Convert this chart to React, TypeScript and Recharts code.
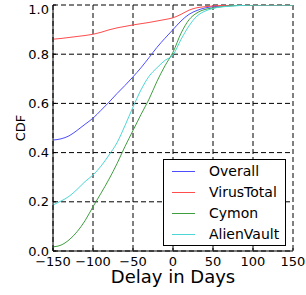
import React from "react";
import {
  LineChart,
  Line,
  XAxis,
  YAxis,
  CartesianGrid,
  Legend,
  Label,
} from "recharts";

const days = [-150, -140, -130, -120, -110, -100, -90, -80, -70, -60, -50, -40, -30, -20, -10, 0, 10, 20, 30, 40, 50, 60, 75, 100, 125, 150];
const overall = [0.451, 0.456, 0.468, 0.49, 0.515, 0.54, 0.572, 0.605, 0.64, 0.673, 0.708, 0.745, 0.786, 0.828, 0.865, 0.9, 0.935, 0.962, 0.978, 0.988, 0.993, 0.996, 0.998, 1.0, 1.0, 1.0];
const virusTotal = [0.861, 0.864, 0.868, 0.872, 0.876, 0.881, 0.889, 0.899, 0.907, 0.913, 0.919, 0.924, 0.929, 0.935, 0.941, 0.948, 0.962, 0.979, 0.989, 0.993, 0.996, 0.998, 0.999, 1.0, 1.0, 1.0];
const cymon = [0.017, 0.024, 0.045, 0.078, 0.123, 0.18, 0.235, 0.292, 0.355, 0.425, 0.49, 0.555, 0.617, 0.69, 0.753, 0.808, 0.885, 0.94, 0.968, 0.982, 0.988, 0.993, 0.997, 1.0, 1.0, 1.0];
const alienVault = [0.187, 0.203, 0.222, 0.25, 0.282, 0.309, 0.345, 0.39, 0.44, 0.51, 0.585, 0.655, 0.71, 0.745, 0.775, 0.797, 0.86, 0.915, 0.955, 0.975, 0.986, 0.992, 0.996, 1.0, 1.0, 1.0];

const xTicks = [-150, -100, -50, 0, 50, 100, 150];
const yTicks = [0, 0.2, 0.4, 0.6, 0.8, 1.0];

const seriesNames = ["Overall", "VirusTotal", "Cymon", "AlienVault"];
const seriesKeys = ["overall", "virusTotal", "cymon", "alienVault"];
const seriesColors = ["#4d4dff", "#ff4d4d", "#3f9f3f", "#4dd6d6"];

const data = days.map((d, i) => ({
  day: d,
  overall: overall[i],
  virusTotal: virusTotal[i],
  cymon: cymon[i],
  alienVault: alienVault[i],
}));

const FONT = "'DejaVu Sans', 'Bitstream Vera Sans', sans-serif";

const fmtX = (v: number) => (v < 0 ? "\u2212" + Math.abs(v) : String(v));

const XTick = (props: any) => {
  const { x, y, payload } = props;
  return (
    <text x={x} y={y} textAnchor="middle" fontFamily={FONT} fontSize={13} fill="#000">
      {fmtX(payload.value)}
    </text>
  );
};

const YTick = (props: any) => {
  const { x, y, payload } = props;
  return (
    <text x={x} y={y} dy="0.36em" textAnchor="end" fontFamily={FONT} fontSize={13} fill="#000">
      {Number(payload.value).toFixed(1)}
    </text>
  );
};

const LegendContent = () => {
  return (
    <div
      style={{
        width: 121,
        border: "1px solid #000",
        background: "#fff",
        paddingTop: 1,
        boxSizing: "content-box",
        fontFamily: FONT,
        fontSize: 14,
      }}
    >
      {seriesNames.map((name, i) => (
        <div key={name} style={{ height: 21, display: "flex", alignItems: "center", position: "relative" }}>
          <svg width={40} height={21} style={{ display: "block" }}>
            <line x1={8} x2={31} y1={10.5} y2={10.5} stroke={seriesColors[i]} strokeWidth={1} />
          </svg>
          <span style={{ position: "absolute", left: 45, top: 1, lineHeight: "19px", color: "#000" }}>{name}</span>
        </div>
      ))}
    </div>
  );
};

export default function App() {
  return (
    <div style={{ position: "absolute", left: 0, top: 0, background: "#fff" }}>
      <LineChart width={306} height={295} data={data} margin={{ top: 5, right: 13, left: 0, bottom: 0 }}>
        <CartesianGrid stroke="#000" strokeDasharray="5 3" strokeWidth={1} />
        <XAxis
          dataKey="day"
          type="number"
          domain={[-150, 150]}
          ticks={xTicks}
          allowDataOverflow
          height={44}
          stroke="#000"
          tickSize={-3}
          tickMargin={18}
          tick={<XTick />}
          tickLine={{ stroke: "#000" }}
          axisLine={{ stroke: "#000" }}
        >
          <Label
            content={(p: any) => {
              const vb = p.viewBox;
              return (
                <text x={vb.x + vb.width / 2} y={283} textAnchor="middle" fontFamily={FONT} fontSize={18} fill="#000">
                  Delay in Days
                </text>
              );
            }}
          />
        </XAxis>
        <XAxis
          xAxisId="top"
          orientation="top"
          type="number"
          dataKey="day"
          domain={[-150, 150]}
          ticks={xTicks}
          allowDataOverflow
          height={0}
          tickSize={-3}
          tick={false}
          tickLine={{ stroke: "#000" }}
          axisLine={{ stroke: "#000" }}
        />
        <YAxis
          type="number"
          domain={[0, 1]}
          ticks={yTicks}
          allowDataOverflow
          width={53}
          tickSize={-3}
          tickMargin={7}
          tick={<YTick />}
          tickLine={{ stroke: "#000" }}
          axisLine={{ stroke: "#000" }}
        >
          <Label
            content={() => (
              <text x={25} y={128} transform="rotate(-90 25 128)" textAnchor="middle" fontFamily={FONT} fontSize={13} fill="#000">
                CDF
              </text>
            )}
          />
        </YAxis>
        <YAxis
          yAxisId="right"
          orientation="right"
          type="number"
          domain={[0, 1]}
          ticks={yTicks}
          allowDataOverflow
          width={0}
          tickSize={-3}
          tick={false}
          tickLine={{ stroke: "#000" }}
          axisLine={{ stroke: "#000" }}
        />
        {seriesKeys.map((k, i) => (
          <Line
            key={k}
            dataKey={k}
            name={seriesNames[i]}
            stroke={seriesColors[i]}
            strokeWidth={1}
            dot={false}
            type="monotone"
            isAnimationActive={false}
          />
        ))}
        <Legend
          layout="vertical"
          align="center"
          verticalAlign="middle"
          wrapperStyle={{ left: 163, top: 159, width: 123 }}
          content={<LegendContent />}
        />
      </LineChart>
    </div>
  );
}
